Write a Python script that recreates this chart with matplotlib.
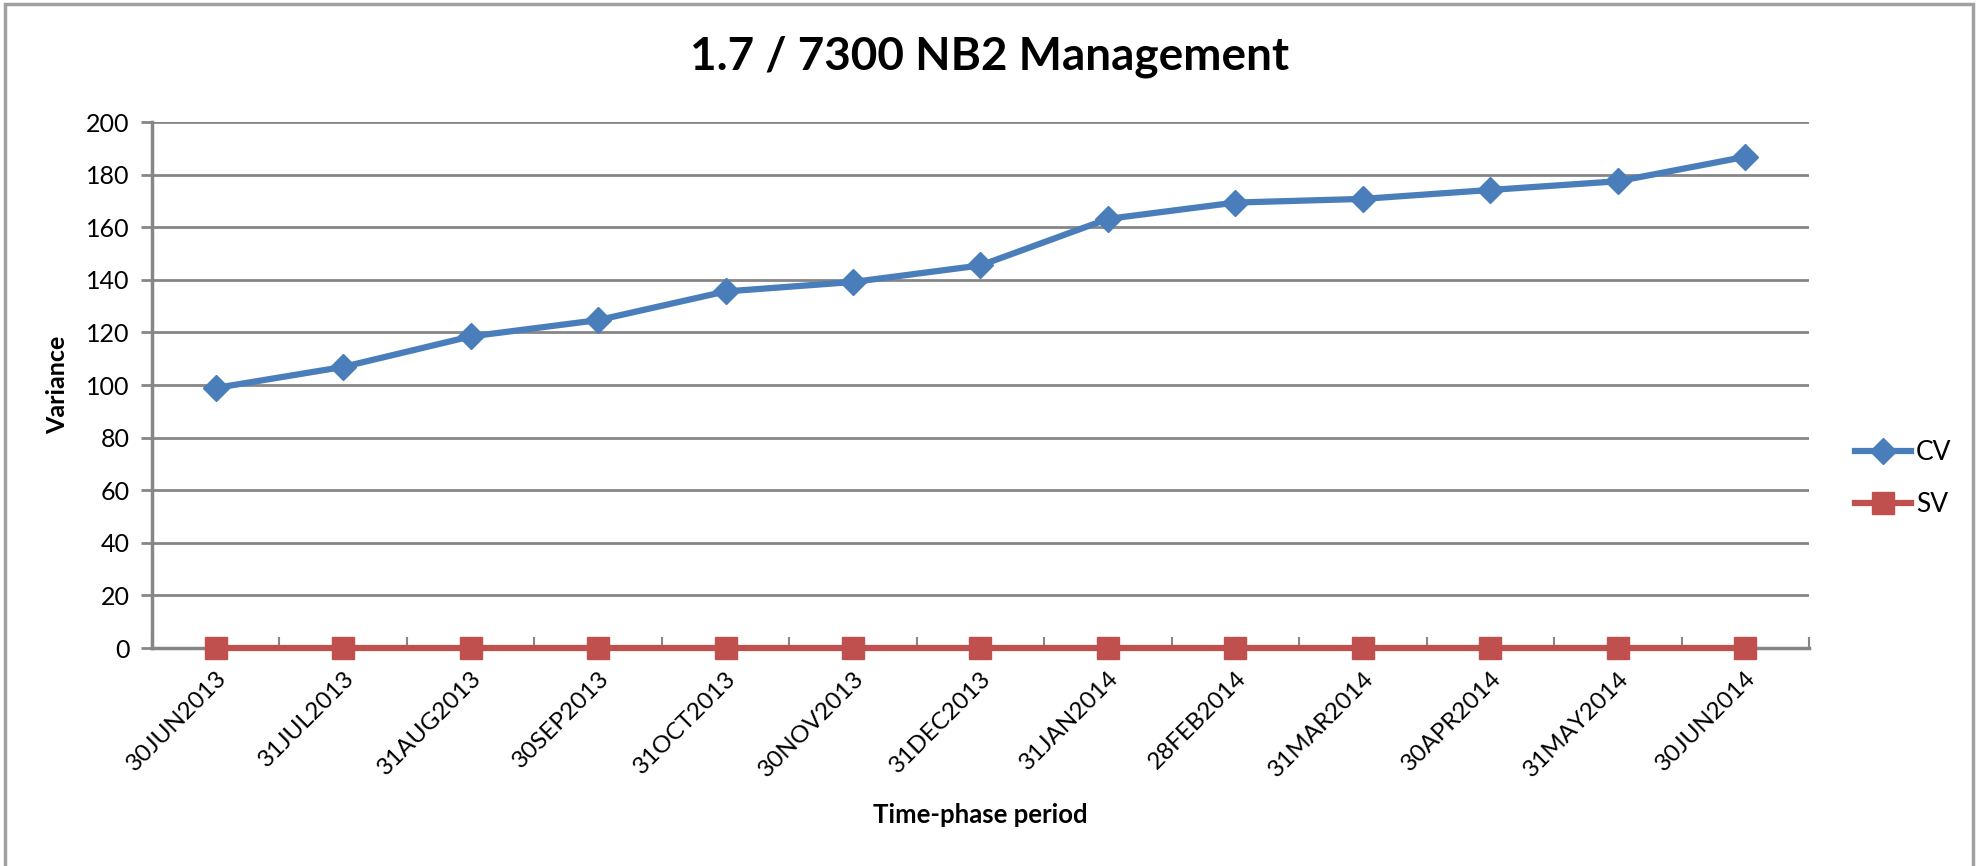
import numpy as np
import matplotlib.pyplot as plt
from matplotlib.patches import Rectangle

plt.rcParams['font.family'] = ['Lato', 'DejaVu Sans']

# Time-phase periods and variance series
periods = ["30JUN2013", "31JUL2013", "31AUG2013", "30SEP2013", "31OCT2013",
           "30NOV2013", "31DEC2013", "31JAN2014", "28FEB2014", "31MAR2014",
           "30APR2014", "31MAY2014", "30JUN2014"]
cv = [98.9, 106.9, 118.5, 124.7, 135.6, 139.2, 145.5, 163.2, 169.4, 170.8, 174.2, 177.5, 186.8]
sv = [0, 0, 0, 0, 0, 0, 0, 0, 0, 0, 0, 0, 0]
y_ticks = [0, 20, 40, 60, 80, 100, 120, 140, 160, 180, 200]

blue = "#4a7ebb"
red = "#c0504d"
grid_gray = "#868686"

fig = plt.figure(figsize=(19.82, 8.66), dpi=100)
ax = fig.add_axes([0.0767, 0.2517, 0.836, 0.6073])

x = np.arange(len(periods))
ax.plot(x, cv, color=blue, linewidth=4.5, marker="D", markersize=13,
        label="CV", zorder=4)
ax.plot(x, sv, color=red, linewidth=4.5, marker="s", markersize=16,
        label="SV", zorder=4, clip_on=False)

ax.set_xlim(-0.5, len(periods) - 0.5)
ax.set_ylim(0, 200)
ax.set_yticks(y_ticks)
ax.yaxis.grid(True, color=grid_gray, linewidth=2)
ax.set_axisbelow(True)

# category ticks sit between the points, labels under the points
ax.set_xticks(np.arange(len(periods) + 1) - 0.5)
ax.set_xticklabels([])
ax.set_xticks(x, minor=True)
ax.set_xticklabels(periods, minor=True, rotation=45, ha="right",
                   rotation_mode="anchor", fontsize=17.5)
ax.tick_params(axis="x", which="major", direction="in", length=8,
               color=grid_gray, width=1.5)
ax.tick_params(axis="x", which="minor", length=0, pad=14)
ax.tick_params(axis="y", direction="out", length=8, color=grid_gray,
               width=2, labelsize=18, pad=8)

for side in ["top", "right"]:
    ax.spines[side].set_visible(False)
for side in ["left", "bottom"]:
    ax.spines[side].set_color(grid_gray)
    ax.spines[side].set_linewidth(2.5)

ax.set_ylabel("Variance", fontsize=18, fontweight="bold", labelpad=12)
ax.set_xlabel("Time-phase period", fontsize=18.5, fontweight="bold", labelpad=16)
fig.text(0.4995, 0.934, "1.7 / 7300 NB2 Management", ha="center", va="center",
         fontsize=33, fontweight="bold")

ax.legend(loc="center left", bbox_to_anchor=(0.993, 0.322), frameon=False,
          fontsize=19, handlelength=2.1, handletextpad=0.2, labelspacing=1.0,
          borderaxespad=1.8)

# chart frame
fig.patches.append(Rectangle((5 / 1982, -0.01), 1968 / 1982, 1.0 - 4 / 866 + 0.01,
                             transform=fig.transFigure, fill=False,
                             edgecolor="#a0a0a0", linewidth=2.5))

fig.savefig("out.png", dpi=100)
